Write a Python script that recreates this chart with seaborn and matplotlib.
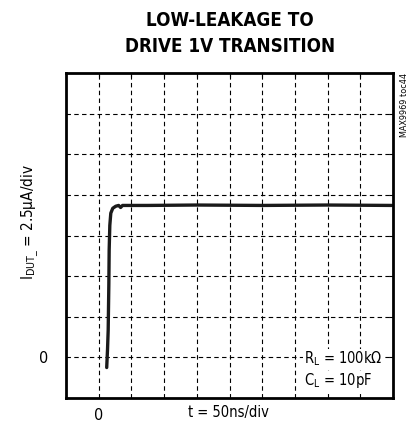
import matplotlib
matplotlib.use("Agg")
import matplotlib.pyplot as plt
from matplotlib import font_manager
import seaborn as sns
import pandas as pd

# data (in divisions)
t_div = [0.245, 0.27, 0.29, 0.31, 0.32, 0.34, 0.37, 0.43, 0.52, 0.61, 0.67, 0.73, 1.5, 3.0, 5.0, 7.0, 8.96]
i_div = [-0.25, 0.2, 0.67, 1.8, 2.64, 3.25, 3.55, 3.67, 3.72, 3.74, 3.69, 3.74, 3.74, 3.75, 3.74, 3.75, 3.74]

title_lines = ["LOW-LEAKAGE TO", "DRIVE 1V TRANSITION"]
x_label = "t = 50ns/div"
y_label = r"I$_{\mathregular{DUT\_}}$ = 2.5µA/div"
note_lines = [r"R$_{\mathregular{L}}$ = 100kΩ", r"C$_{\mathregular{L}}$ = 10pF"]
tag = "MAX9969 toc44"

sns.set_style("white")
cond = [f for f in font_manager.fontManager.ttflist
        if f.stretch in ("condensed", "semi-condensed", "extra-condensed") or "Condensed" in f.fname or "Narrow" in f.name]
fam = cond[0].name if cond else "DejaVu Sans"
plt.rcParams['font.family'] = [fam, 'DejaVu Sans']
plt.rcParams['font.stretch'] = 'condensed'
plt.rcParams['text.color'] = 'black'
plt.rcParams['mathtext.fontset'] = 'custom'
plt.rcParams['mathtext.rm'] = fam

fig = plt.figure(figsize=(4.15, 4.30), dpi=100)
ax = fig.add_axes([66/415, 1-398/430, (393-66)/415, (398-73)/430])

df = pd.DataFrame({"t": t_div, "i": i_div})
sns.lineplot(data=df, x="t", y="i", ax=ax, color="#1a1a1a", linewidth=2.4, sort=False)

ax.set_xlim(-1, 9)
ax.set_ylim(-1, 7)
ax.set_xticks(range(0, 9))
ax.set_yticks(range(0, 7))
ax.set_xticklabels(["0"] + [""] * 8)
ax.set_yticklabels(["0"] + [""] * 6)
ax.tick_params(axis="both", direction="in", length=3, width=0.8, color="black",
               labelcolor="black", top=True, right=True, labelsize=11.5)
ax.tick_params(axis="x", pad=7)
ax.tick_params(axis="y", pad=13)
ax.grid(True, color="black", linestyle=(0, (4, 3)), linewidth=0.8)
for s in ax.spines.values():
    s.set_color("black")
    s.set_linewidth(2.0)
ax.set_xlabel("")
ax.set_ylabel("")

fig.text(230/415, 1-20/430, title_lines[0], ha="center", va="center", fontsize=13.5, fontweight="bold")
fig.text(230/415, 1-46/430, title_lines[1], ha="center", va="center", fontsize=13.5, fontweight="bold")
fig.text(228/415, 1-413/430, x_label, ha="center", va="center", fontsize=10.5)
fig.text(30/415, 1-222/430, y_label, ha="center", va="center", rotation=90, fontsize=11)
fig.text(404/415, 1-73/430, tag, ha="center", va="top", rotation=90, fontsize=6.5)

bb = dict(facecolor="white", edgecolor="none", pad=0.5)
ax.text((304-66)/327, (398-359)/325, note_lines[0], ha="left", va="center", fontsize=10.5, bbox=bb, transform=ax.transAxes)
ax.text((304-66)/327, (398-381)/325, note_lines[1], ha="left", va="center", fontsize=10.5, bbox=bb, transform=ax.transAxes)

fig.savefig("out.png", dpi=100)
